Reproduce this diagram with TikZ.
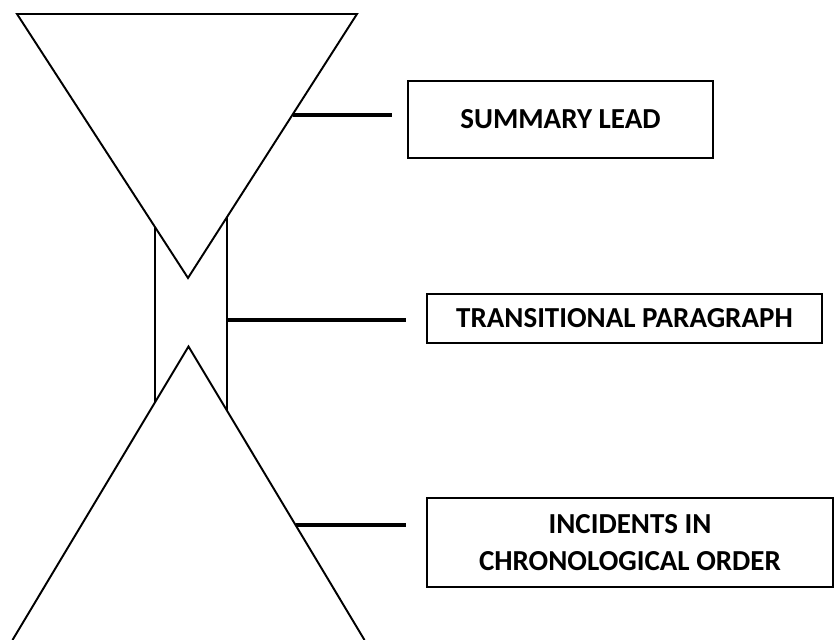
\documentclass[tikz,border=0pt]{standalone}
\usepackage{fontspec}
\setmainfont{Carlito}
\usepackage{tikz}
\usetikzlibrary{positioning}

\begin{document}
\begin{tikzpicture}[
    box/.style={draw, line width=1.1pt, inner sep=0pt, align=center, font=\fontsize{16.5}{21}\selectfont\bfseries},
    link/.style={line width=2.4pt, shorten >=0.4cm}
]
    \useasboundingbox (0,0) rectangle (16.7,12.8);

    % Middle bar (drawn first, the triangles hide its ends)
    \draw[line width=1.1pt] (3.10,4.0) rectangle (4.54,9.0);

    % Top triangle, point down
    \filldraw[fill=white, line width=1.1pt] (0.34,12.52) -- (7.14,12.52) -- (3.76,7.24) -- cycle;

    % Bottom triangle, base runs off the page
    \fill[white] (0.25,0) -- (3.77,5.87) -- (7.29,0) -- cycle;
    \draw[line width=1.1pt] (0.25,0) -- (3.77,5.87) -- (7.29,0);

    % Where the connectors start
    \coordinate (leadtip) at (5.85,10.50);
    \coordinate (transtip) at (4.54,6.40);
    \coordinate (incitip) at (5.91,2.30);

    % Boxes
    \node[box, minimum width=6.1cm, minimum height=1.54cm] (lead) at (11.21,10.41) {SUMMARY LEAD};
    \node[box, minimum width=7.9cm, minimum height=0.98cm] (trans) at (12.49,6.43) {TRANSITIONAL PARAGRAPH};
    \node[box, minimum width=8.12cm, minimum height=1.78cm] (incidents) at (12.60,1.95) {INCIDENTS IN\\CHRONOLOGICAL ORDER};

    % Connectors
    \draw[link, shorten >=0.3cm] (leadtip) -- (leadtip -| lead.west);
    \draw[link] (transtip) -- (transtip -| trans.west);
    \draw[link] (incitip) -- (incitip -| incidents.west);
\end{tikzpicture}
\end{document}
